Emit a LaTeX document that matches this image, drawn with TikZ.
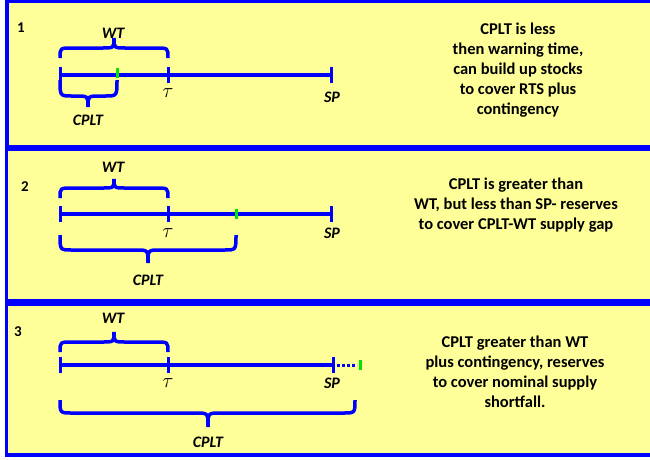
\documentclass[tikz,border=0pt]{standalone}
\usepackage{fontspec}
\setmainfont{Carlito}
\definecolor{bblue}{RGB}{0,0,255}
\definecolor{byellow}{RGB}{255,255,153}
\definecolor{bgreen}{RGB}{0,230,0}
\newcommand{\mybrace}[6]{% x1,x2,xm,yend,yhoriz,ytip
  \draw[br] (#1,#4) .. controls (#1,#5) .. (#1+12,#5) -- (#3-12,#5)
    .. controls (#3,#5) .. (#3,#6) .. controls (#3,#5) .. (#3+12,#5)
    -- (#2-12,#5) .. controls (#2,#5) .. (#2,#4);}
\begin{document}
\begin{tikzpicture}[x=1pt,y=-1pt,
  box/.style={draw=bblue, line width=3.5pt, fill=byellow},
  tl/.style={draw=bblue, line width=3.5pt},
  tk/.style={draw=bblue, line width=3pt},
  gk/.style={draw=bgreen, line width=3pt},
  br/.style={draw=bblue, line width=3.5pt},
  lab/.style={font=\fontsize{16}{19}\selectfont\bfseries\itshape, inner sep=0pt},
  num/.style={font=\fontsize{15}{17}\selectfont\bfseries, inner sep=0pt},
  tau/.style={font=\fontsize{21}{23}\selectfont, inner sep=0pt},
  desc/.style={font=\fontsize{16.5}{20}\selectfont\bfseries, align=center, inner sep=0pt}
]
\useasboundingbox (0,0) rectangle (650,459);
\fill[white] (0,0) rectangle (650,459);
% boxes
\draw[box] (7,1.5) rectangle (665,147);
\draw[box] (6.5,149.5) rectangle (665,300.5);
\draw[box] (6.5,304) rectangle (665,455);

% ---------- panel 1 ----------
\node[num] (n1) at (21,28) {1};
\node[lab] (wt1) at (113,33) {WT};
\mybrace{60}{168}{114}{58}{48}{38}
\draw[tl] (60,75) -- (331,75);
\draw[tk] (60,67) -- (60,83);
\draw[tk] (168,67) -- (168,83);
\draw[tk] (331,67) -- (331,83);
\draw[gk] (117,67.5) -- (117,78);
\mybrace{60}{117}{88}{80}{96}{107}
\node[tau] (tau1) at (168,93) {$\tau$};
\node[lab] (sp1) at (332,97) {SP};
\node[lab] (cplt1) at (88,120) {CPLT};
\node[desc] (d1) at (518,70.5) {CPLT is less\\then warning time,\\can build up stocks\\to cover RTS plus\\contingency};

% ---------- panel 2 ----------
\node[num] (n2) at (25,187) {2};
\node[lab] (wt2) at (113,167) {WT};
\mybrace{60}{168}{114}{198}{188}{179}
\draw[tl] (60,214) -- (331,214);
\draw[tk] (60,206) -- (60,222);
\draw[tk] (168,206) -- (168,222);
\draw[tk] (331,206) -- (331,222);
\draw[gk] (236,208.5) -- (236,219);
\mybrace{60}{236}{148}{235}{250}{263}
\node[tau] (tau2) at (168,233) {$\tau$};
\node[lab] (sp2) at (332,233) {SP};
\node[lab] (cplt2) at (148,280) {CPLT};
\node[desc] (d2) at (516,205) {CPLT is greater than\\WT, but less than SP- reserves\\to cover CPLT-WT supply gap};

% ---------- panel 3 ----------
\node[num] (n3) at (18,332) {3};
\node[lab] (wt3) at (113,318) {WT};
\mybrace{60}{168}{114}{352}{342}{332}
\draw[tl] (60,365) -- (333,365);
\draw[tk] (60,357) -- (60,373);
\draw[tk] (168,357) -- (168,373);
\draw[tk] (333,357) -- (333,373);
\draw[bblue, line width=3pt, dash pattern=on 2.5pt off 2.5pt] (337,365) -- (357,365);
\draw[gk] (360,359.5) -- (360,370);
\mybrace{60}{355}{208}{400}{413}{427}
\node[tau] (tau3) at (168,383) {$\tau$};
\node[lab] (sp3) at (332,383) {SP};
\node[lab] (cplt3) at (208,442) {CPLT};
\node[desc] (d3) at (515,371.5) {CPLT greater than WT\\plus contingency, reserves\\to cover nominal supply\\shortfall.};
\end{tikzpicture}
\end{document}
